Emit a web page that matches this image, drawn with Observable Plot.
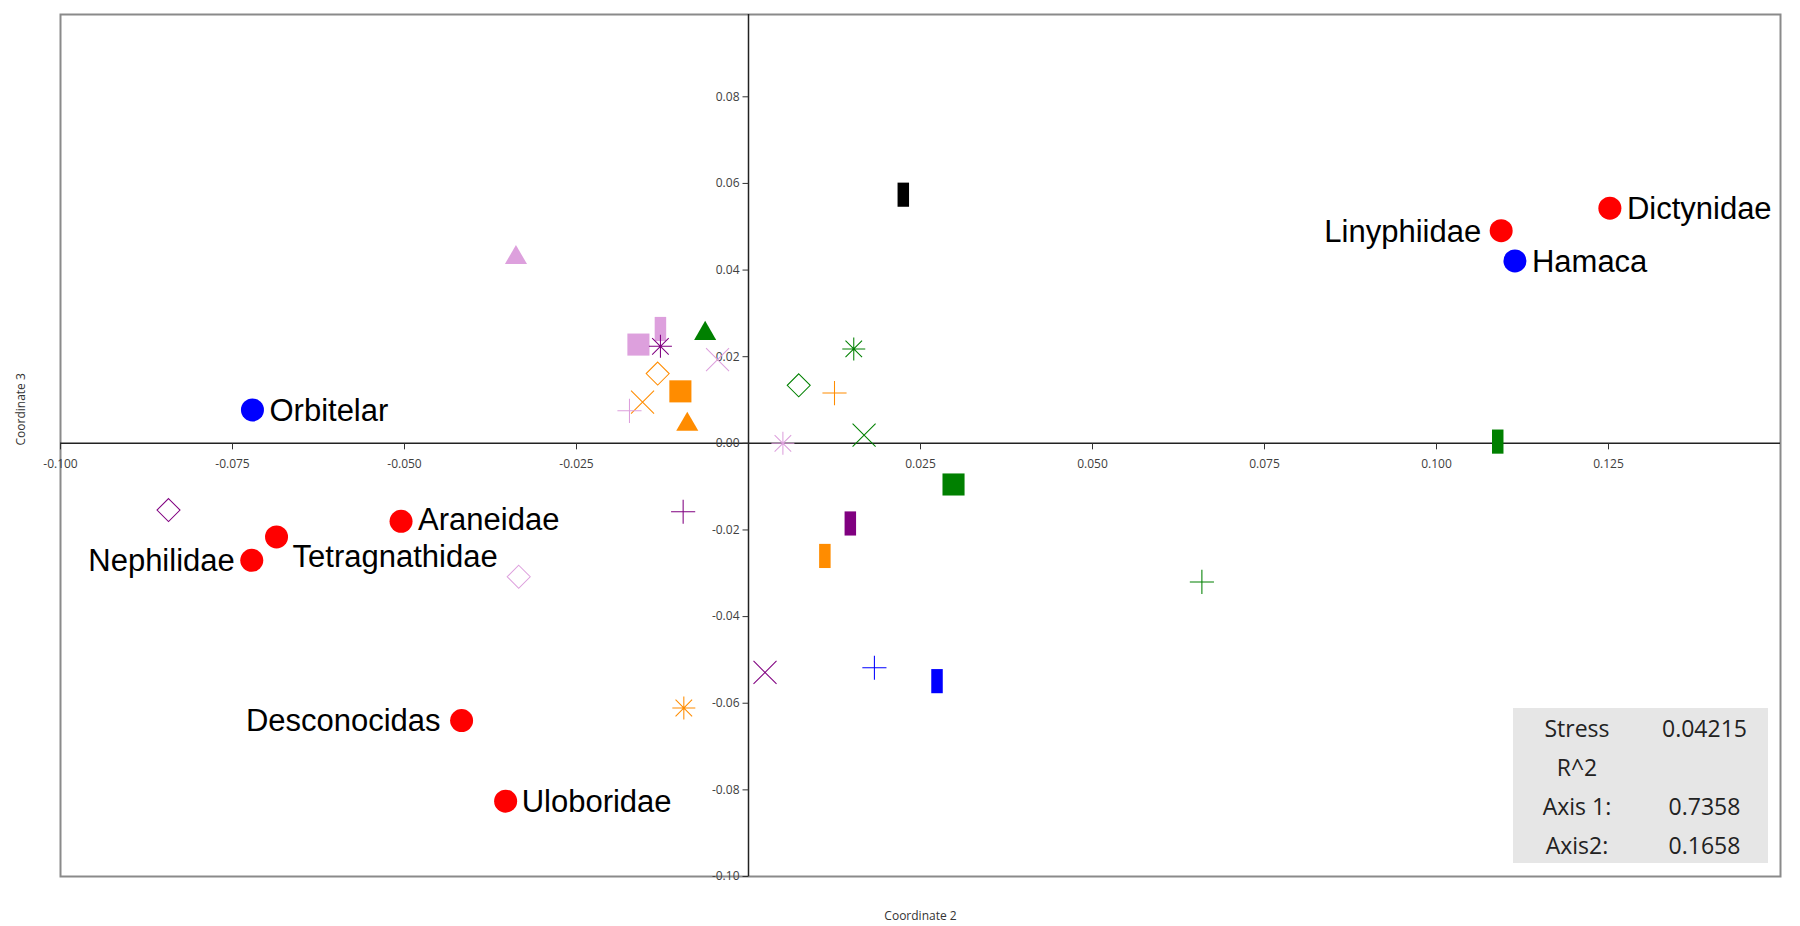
<!DOCTYPE html>
<html>
<head>
<meta charset="utf-8">
<script src="https://cdn.jsdelivr.net/npm/d3@7"></script>
<script src="https://cdn.jsdelivr.net/npm/@observablehq/plot@0.6"></script>
<style>
  body { margin: 0; background: #ffffff; }
  #wrap { position: relative; width: 1800px; height: 926px; }
  #stats {
    position: absolute; left: 1513px; top: 708px; width: 255px; height: 155px;
    background: #e6e6e6; font-family: "Open Sans", sans-serif; font-size: 23px; color: #222;
    display: grid; grid-template-columns: 128px 127px; grid-auto-rows: 39px; align-items: center;
  }
  #stats div { text-align: center; }
</style>
</head>
<body>
<div id="wrap"></div>
<script>
// ---------- DATA ----------
// Labelled points (families and web types)
const labelNames = ["Dictynidae", "Linyphiidae", "Hamaca", "Orbitelar", "Araneidae", "Tetragnathidae", "Nephilidae", "Desconocidas", "Uloboridae"];
const labelX = [0.1252, 0.1094, 0.1114, -0.0721, -0.0505, -0.0686, -0.0722, -0.0417, -0.0353];
const labelY = [0.0543, 0.0491, 0.0421, 0.0077, -0.0180, -0.0216, -0.0270, -0.0640, -0.0826];
const labelGroup = ["Familia", "Familia", "Tela", "Tela", "Familia", "Familia", "Familia", "Familia", "Familia"];

// Unlabelled markers: coordinate 2, coordinate 3, marker shape, marker colour category
const markerX = [0.0225, -0.0338, -0.0160, -0.0128, -0.0128, -0.0063, -0.0045, -0.0132, -0.0099, -0.0154,
                 -0.0173, -0.0089, 0.0073, 0.0125, 0.0153, 0.0168, 0.0050, 0.0298, 0.0148, 0.0111,
                 0.0024, 0.0183, 0.0274, 0.1089, 0.0659, -0.0843, -0.0334, -0.0095, -0.0094];
const markerY = [0.0574, 0.0434, 0.0228, 0.0264, 0.0224, 0.0259, 0.0193, 0.0161, 0.0120, 0.0095,
                 0.0075, 0.0049, 0.0134, 0.0116, 0.0218, 0.0019, 0.0000, -0.0095, -0.0185, -0.0260,
                 -0.0529, -0.0518, -0.0549, 0.0004, -0.0320, -0.0154, -0.0308, -0.0158, -0.0611];
const markerShape = ["bar", "triangle", "square", "bar", "asterisk", "triangle", "times", "diamond", "square", "times",
                     "plus", "triangle", "diamond", "plus", "asterisk", "times", "asterisk", "square", "bar", "bar",
                     "times", "plus", "bar", "bar", "plus", "diamond", "diamond", "plus", "asterisk"];
const markerColor = ["black", "plum", "plum", "plum", "purple", "green", "plum", "orange", "orange", "orange",
                     "plum", "orange", "green", "orange", "green", "green", "plum", "green", "purple", "orange",
                     "purple", "blue", "blue", "green", "green", "purple", "plum", "purple", "orange"];

// Axis ticks
const xTickValues = [-0.100, -0.075, -0.050, -0.025, 0.025, 0.050, 0.075, 0.100, 0.125];
const xTickLabels = ["-0.100", "-0.075", "-0.050", "-0.025", "0.025", "0.050", "0.075", "0.100", "0.125"];
const yTickValues = [0.08, 0.06, 0.04, 0.02, 0.00, -0.02, -0.04, -0.06, -0.08, -0.10];
const yTickLabels = ["0.08", "0.06", "0.04", "0.02", "0.00", "-0.02", "-0.04", "-0.06", "-0.08", "-0.10"];

// Stats box
const statNames = ["Stress", "R^2", "Axis 1:", "Axis2:"];
const statValues = ["0.04215", "", "0.7358", "0.1658"];

// ---------- STYLE ----------
const groupColor = { Familia: "#ff0000", Tela: "#0000ff" };
const palette = { black: "#000000", plum: "#dda0dd", purple: "#800080", green: "#008000", orange: "#ff8c00", blue: "#0000ff" };
const labelPlacement = {
  Dictynidae: { anchor: "start", dx: 17, dy: 1 },
  Linyphiidae: { anchor: "end", dx: -20, dy: 1 },
  Hamaca: { anchor: "start", dx: 17, dy: 1 },
  Orbitelar: { anchor: "start", dx: 17, dy: 1 },
  Araneidae: { anchor: "start", dx: 17, dy: -1 },
  Tetragnathidae: { anchor: "start", dx: 16, dy: 20 },
  Nephilidae: { anchor: "end", dx: -17, dy: 1 },
  Desconocidas: { anchor: "end", dx: -21, dy: 1 },
  Uloboridae: { anchor: "start", dx: 16, dy: 1 }
};

const rad = (s) => Math.sqrt(s / Math.PI);
const symbols = {
  bar: { draw(c, s) { const r = rad(s); const w = r * 0.5, h = r * 1.05; c.rect(-w, -h, 2 * w, 2 * h); } },
  square: { draw(c, s) { const r = rad(s) * 0.96; c.rect(-r, -r, 2 * r, 2 * r); } },
  triangle: { draw(c, s) { const r = rad(s); c.moveTo(0, -0.9 * r); c.lineTo(0.96 * r, 0.76 * r); c.lineTo(-0.96 * r, 0.76 * r); c.closePath(); } },
  diamond: { draw(c, s) { const r = rad(s); c.moveTo(0, -r); c.lineTo(r, 0); c.lineTo(0, r); c.lineTo(-r, 0); c.closePath(); } },
  times: { draw(c, s) { const r = rad(s); c.moveTo(-r, -r); c.lineTo(r, r); c.moveTo(r, -r); c.lineTo(-r, r); } },
  plus: { draw(c, s) { const r = rad(s) * 1.05; c.moveTo(-r, 0); c.lineTo(r, 0); c.moveTo(0, -r); c.lineTo(0, r); } },
  asterisk: { draw(c, s) { const r = rad(s); const d = r * 0.72; c.moveTo(-r, 0); c.lineTo(r, 0); c.moveTo(0, -r); c.lineTo(0, r); c.moveTo(-d, -d); c.lineTo(d, d); c.moveTo(d, -d); c.lineTo(-d, d); } }
};
const tickDown = { draw(c) { c.moveTo(0, 0); c.lineTo(0, 6); } };
const tickLeft = { draw(c) { c.moveTo(-6, 0); c.lineTo(0, 0); } };
const filledShapes = ["square", "bar", "triangle"];
const strokedShapes = ["diamond", "times", "plus", "asterisk"];

// ---------- BUILD ----------
const labelled = labelNames.map((n, i) => ({ name: n, x: labelX[i], y: labelY[i], group: labelGroup[i] }));
const markers = markerX.map((x, i) => ({ x, y: markerY[i], shape: markerShape[i], color: markerColor[i] }));
const xTicks = xTickValues.map((v, i) => ({ v, label: xTickLabels[i] }));
const yTicks = yTickValues.map((v, i) => ({ v, label: yTickLabels[i] }));

const marks = [
  Plot.frame({ stroke: "#8a8a8a", strokeWidth: 2 }),
  Plot.ruleX([0], { stroke: "#222", strokeWidth: 1.5 }),
  Plot.ruleY([0], { stroke: "#222", strokeWidth: 1.5 }),
  Plot.dot(xTicks, { x: "v", y: () => 0, symbol: tickDown, r: 3, stroke: "#333", strokeWidth: 1 }),
  Plot.dot(yTicks, { x: () => 0, y: "v", symbol: tickLeft, r: 3, stroke: "#333", strokeWidth: 1 }),
  Plot.text(xTicks, { x: "v", y: () => 0, text: "label", dy: 21, fill: "#404040", fontSize: 12, fontFamily: "Open Sans" }),
  Plot.text(yTicks, { x: () => 0, y: "v", text: "label", dx: -9, textAnchor: "end", fill: "#404040", fontSize: 12, fontFamily: "Open Sans" }),
  Plot.text(["Coordinate 2"], { text: d => d, frameAnchor: "bottom", dy: 43, fill: "#333", fontSize: 12, fontFamily: "Open Sans" }),
  Plot.text(["Coordinate 3"], { text: d => d, frameAnchor: "left", dx: -39, rotate: -90, fill: "#333", fontSize: 12, fontFamily: "Open Sans" })
];

for (const k of filledShapes) {
  marks.push(Plot.dot(markers.filter(d => d.shape === k), { x: "x", y: "y", r: 11.5, symbol: symbols[k], fill: d => palette[d.color], stroke: "none" }));
}
for (const k of strokedShapes) {
  marks.push(Plot.dot(markers.filter(d => d.shape === k), { x: "x", y: "y", r: 11.5, symbol: symbols[k], fill: "none", stroke: d => palette[d.color], strokeWidth: 1.05 }));
}
marks.push(Plot.dot(labelled, { x: "x", y: "y", r: 11.5, symbol: "circle", fill: d => groupColor[d.group], stroke: "none" }));
for (const d of labelled) {
  const p = labelPlacement[d.name];
  marks.push(Plot.text([d], { x: "x", y: "y", text: "name", textAnchor: p.anchor, dx: p.dx, dy: p.dy, fill: "#000", fontSize: 31, fontFamily: "Liberation Sans, Arial, sans-serif" }));
}

const chart = Plot.plot({
  width: 1800,
  height: 926,
  marginLeft: 60,
  marginRight: 20,
  marginTop: 14,
  marginBottom: 50,
  x: { domain: [-0.1, 0.15], axis: null },
  y: { domain: [-0.1, 0.099], axis: null },
  color: { type: "identity" },
  style: { background: "#ffffff", fontFamily: "Open Sans" },
  marks
});
const wrap = document.getElementById("wrap");
wrap.appendChild(chart);

const stats = document.createElement("div");
stats.id = "stats";
statNames.forEach((n, i) => {
  const a = document.createElement("div"); a.textContent = n; stats.appendChild(a);
  const b = document.createElement("div"); b.textContent = statValues[i]; stats.appendChild(b);
});
wrap.appendChild(stats);
</script>
</body>
</html>
